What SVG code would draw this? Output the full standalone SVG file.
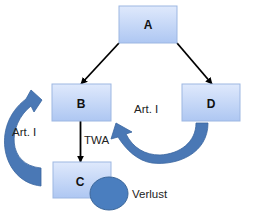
<svg xmlns="http://www.w3.org/2000/svg" width="268" height="221" viewBox="0 0 268 221">
<defs>
<linearGradient id="boxg" x1="0" y1="0" x2="0" y2="1">
<stop offset="0" stop-color="#dfe9fc"/>
<stop offset="1" stop-color="#aec7f2"/>
</linearGradient>
<marker id="ah" viewBox="0 0 10 10" refX="9" refY="5" markerWidth="7" markerHeight="7" orient="auto" markerUnits="userSpaceOnUse">
<path d="M0,0 L10,5 L0,10 Z" fill="#000"/>
</marker>
<style>
.box{fill:url(#boxg);stroke:#9db7e2;stroke-width:1}
.lbl{font-family:"Liberation Sans",Arial,sans-serif;font-size:12px;font-weight:bold;fill:#111;text-anchor:middle}
.txt{font-family:"Liberation Sans",Arial,sans-serif;font-size:11.5px;fill:#222}
.con{stroke:#000;stroke-width:1.8;fill:none;marker-end:url(#ah)}
.curve{fill:#4a78b5;stroke:#3a66a0;stroke-width:0.8}
</style>
</defs>
<rect width="268" height="221" fill="#fff"/>
<g id="connectors">
<line class="con" x1="119" y1="43" x2="81" y2="84"/>
<line class="con" x1="177" y1="43" x2="212" y2="84"/>
<line class="con" x1="80.5" y1="121" x2="80.5" y2="162"/>
<path id="curve-left" class="curve" d="M41,186 C2,182 -10,126 26,99 L31,90 L42,100 L34,112 L31,106 C7,125 7,165 41,168 Z"/>
<path id="curve-right" class="curve" d="M208,123 C208,153 178,166 152,163 C138,161 126,150 118,137 L111,139 L116,123 L132,132 L126,134 C133,148 145,155 160,155 C180,154 196,142 196,123 Z"/>
</g>
<g id="node-A"><rect class="box" x="119" y="6" width="58" height="37"/><text class="lbl" x="148" y="29">A</text></g>
<g id="node-B"><rect class="box" x="52" y="84" width="59" height="37"/><text class="lbl" x="81" y="108">B</text></g>
<g id="node-D"><rect class="box" x="182" y="84" width="58" height="37"/><text class="lbl" x="211" y="108">D</text></g>
<g id="node-C"><rect class="box" x="53" y="162" width="58" height="36"/><text class="lbl" x="80" y="186">C</text></g>
<g id="node-Verlust"><ellipse cx="109" cy="193.5" rx="19" ry="16.5" fill="#4a7ebf" stroke="#3b6699" stroke-width="1"/><text class="txt" x="132" y="198">Verlust</text></g>
<g id="labels">
<text class="txt" x="134" y="113">Art. I</text>
<text class="txt" x="12" y="136">Art. I</text>
<text class="txt" x="84" y="144">TWA</text>
</g>
</svg>
